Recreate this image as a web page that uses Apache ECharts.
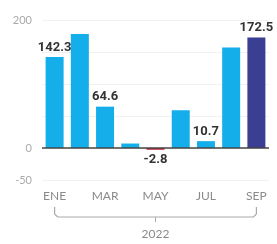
<!DOCTYPE html>
<html>
<head>
<meta charset="utf-8">
<script src="https://cdn.jsdelivr.net/npm/echarts@6/dist/echarts.min.js"></script>
</head>
<body style="margin:0;background:#fff">
<div id="chart" style="width:277px;height:244px"></div>
<script>
// meses 2022
const months = ['ENE', 'FEB', 'MAR', 'ABR', 'MAY', 'JUN', 'JUL', 'AGO', 'SEP'];
const values = [142.3, 178, 64.6, 7, -2.8, 59, 10.7, 157, 172.5];
const shownLabels = [true, false, true, false, true, false, true, false, true];
const yTickLabels = [200, 0, -50];
const yearLabel = '2022';

const blue = '#14aeea', navy = '#3b3f94', red = '#c62a3a';

const chart = echarts.init(document.getElementById('chart'));

const data = values.map((v, i) => ({
  value: v,
  itemStyle: { color: i === values.length - 1 ? navy : (v < 0 ? red : blue) },
  label: {
    show: shownLabels[i],
    position: v < 0 ? 'bottom' : 'top',
    distance: 3
  }
}));

chart.setOption({
  animation: false,
  grid: { left: 42, right: 8, top: 20, bottom: 64 },
  xAxis: {
    type: 'category',
    data: months,
    axisLine: { show: false },
    axisTick: { show: false },
    axisLabel: {
      interval: 1, margin: 10,
      color: '#8a8a8a', fontSize: 12, fontFamily: 'Lato'
    }
  },
  yAxis: {
    type: 'value',
    min: -50, max: 200, interval: 50,
    axisLabel: {
      margin: 10, color: '#aaa', fontSize: 11, fontFamily: 'Lato',
      formatter: v => yTickLabels.includes(v) ? String(v) : ''
    },
    splitLine: { lineStyle: { color: '#f1f1f1', width: 1 } }
  },
  series: [{
    type: 'bar',
    data: data,
    barWidth: 18,
    label: {
      color: '#333', fontSize: 13, fontWeight: 'bold', fontFamily: 'Roboto'
    },
    markLine: {
      silent: true, symbol: 'none', label: { show: false },
      lineStyle: { color: '#444', width: 1.5, type: 'solid' },
      data: [{ yAxis: 0 }]
    }
  }]
});

// bracket under the months
const x0 = chart.convertToPixel({ xAxisIndex: 0 }, 0);
const x1 = chart.convertToPixel({ xAxisIndex: 0 }, months.length - 1);
const xm = (x0 + x1) / 2;
chart.setOption({
  graphic: [
    {
      type: 'polyline',
      shape: { points: [[x0, 207], [x0, 214], [x0 + 3, 217], [x1 - 3, 217], [x1, 214], [x1, 207]] },
      style: { stroke: '#aaa', lineWidth: 1.2, fill: null }
    },
    { type: 'line', shape: { x1: xm, y1: 217, x2: xm, y2: 222 }, style: { stroke: '#aaa', lineWidth: 1 } },
    {
      type: 'text', x: xm, y: 234,
      style: { text: yearLabel, fill: '#8a8a8a', fontSize: 12, fontFamily: 'Lato', align: 'center', verticalAlign: 'middle' }
    }
  ]
});
</script>
</body>
</html>
